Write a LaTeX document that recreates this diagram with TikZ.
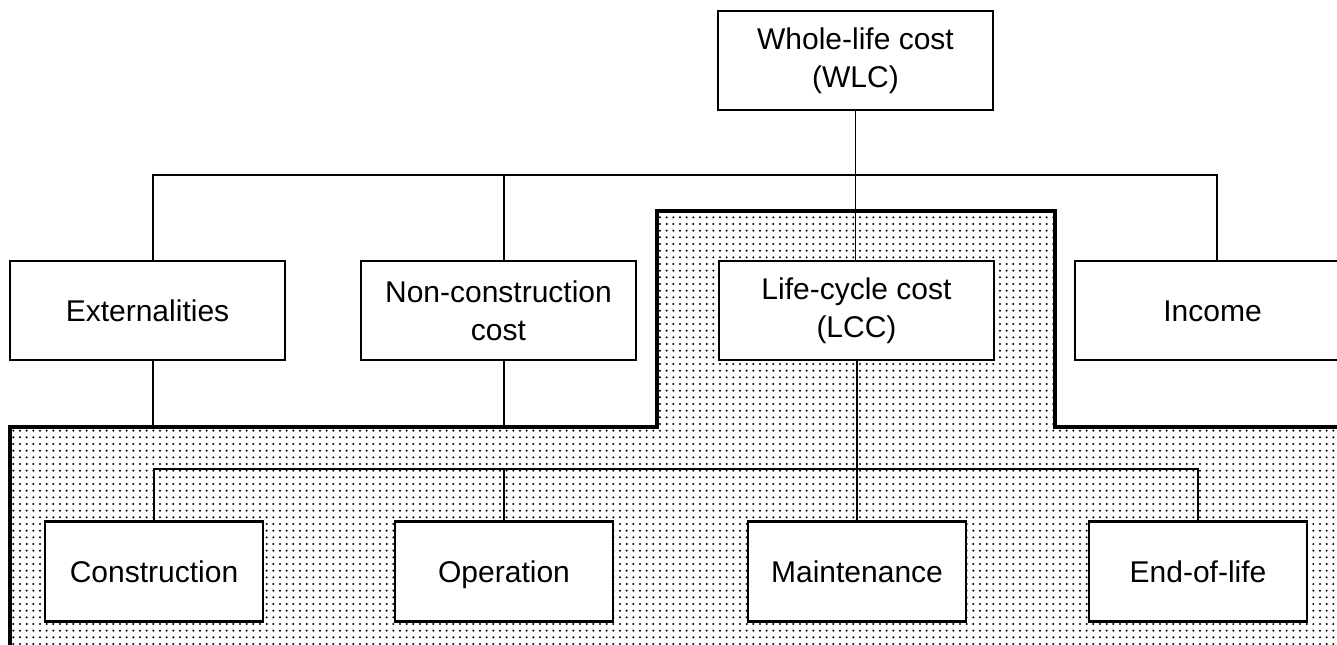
\documentclass[tikz,border=0pt]{standalone}
\usepackage{fontspec}
\setmainfont{Liberation Sans}
\usetikzlibrary{patterns}
\begin{document}
\begin{tikzpicture}[x=0.45pt,y=-0.45pt,
  box/.style={draw=black,line width=1.3pt,fill=white,inner sep=0pt,outer sep=0pt,align=center,font=\fontsize{13.5}{17}\selectfont},
  topbox/.style={box,minimum width=123.75pt,minimum height=44.55pt},
  onebox/.style={text height=11pt,text depth=1.5pt},
  lowbox/.style={box,onebox,minimum width=98.1pt,minimum height=45pt},
  conn/.style={draw=black,line width=0.85pt},
  wall/.style={draw=black,line width=1.9pt}]
\useasboundingbox (0,0) rectangle (1337,644);
\fill[white] (0,0) rectangle (1337,644);
\begin{scope}
\clip (0,0) rectangle (1337,644);
% shaded life-cycle region
\fill[pattern=dots] (10,427) -- (657,427) -- (657,211) -- (1055,211) -- (1055,427) -- (1360,427) -- (1360,670) -- (10,670) -- cycle;
\draw[wall] (10,670) -- (10,427) -- (657,427) -- (657,211) -- (1055,211) -- (1055,427) -- (1360,427);
% boxes
\node[topbox] (wlc) at (855.5,60.5) {Whole-life cost\\(WLC)};
\node[topbox,onebox] (ext) at (147.5,310.5) {Externalities};
\node[topbox] (ncc) at (498.5,310.5) {Non-construction\\cost};
\node[topbox] (lcc) at (856.5,310.5) {Life-cycle cost\\(LCC)};
\node[topbox,onebox] (inc) at (1212.5,310.5) {Income};
\node[lowbox] (con) at (154,571.5) {Construction};
\node[lowbox] (ope) at (504,571.5) {Operation};
\node[lowbox] (mai) at (857,571.5) {Maintenance};
\node[lowbox] (eol) at (1198,571.5) {End-of-life};
% reference points
\coordinate (busA) at (153,175);
\coordinate (busB) at (504,175);
\coordinate (busC) at (1217,175);
\coordinate (rtop) at (0,427);
\coordinate (lowbus) at (0,469);
% upper connectors
\draw[conn] (busA |- ext.north) -- (busA) -- (busC) -- (busC |- inc.north);
\draw[conn] (busB) -- (busB |- ncc.north);
\draw[conn] (wlc.south) -- (wlc.south |- lcc.north);
\draw[conn] (busA |- ext.south) -- (busA |- rtop);
\draw[conn] (busB |- ncc.south) -- (busB |- rtop);
% lower connectors
\draw[conn] (lcc.south -| mai.north) -- (mai.north);
\draw[conn] (con.north) -- (con.north |- lowbus) -- (eol.north |- lowbus) -- (eol.north);
\draw[conn] (ope.north |- lowbus) -- (ope.north);
\end{scope}
\end{tikzpicture}
\end{document}
